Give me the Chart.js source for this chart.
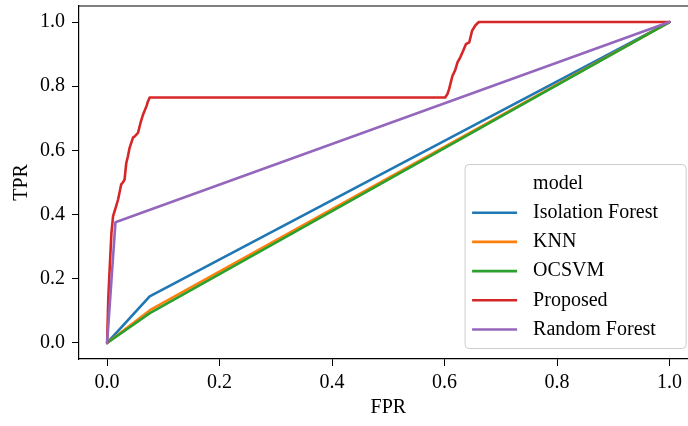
<!DOCTYPE html>
<html>
<head>
<meta charset="utf-8">
<script src="https://cdn.jsdelivr.net/npm/chart.js@4.4.1/dist/chart.umd.min.js"></script>
<style>
  html, body { margin: 0; padding: 0; background: #fff; overflow: hidden; width: 688px; height: 426px; }
  #wrap { width: 700px; height: 426px; }
</style>
</head>
<body>
<div id="wrap"><canvas id="c" width="700" height="426"></canvas></div>
<script>
// ---- data ----
const modelNames = ["Isolation Forest", "KNN", "OCSVM", "Proposed", "Random Forest"];
const modelColors = ["#1f77b4", "#ff7f0e", "#2ca02c", "#d62728", "#9467bd"];

const isoFpr = [0, 0.0757, 1.0];
const isoTpr = [0, 0.145, 1.0];

const knnFpr = [0, 0.076, 1.0];
const knnTpr = [0, 0.102, 1.0];

const ocsvmFpr = [0, 0.076, 1.0];
const ocsvmTpr = [0, 0.093, 1.0];

const propFpr = [0, 0.002, 0.0047, 0.0077, 0.0106, 0.0150, 0.0195, 0.025, 0.028, 0.031, 0.034, 0.037, 0.040, 0.046, 0.050, 0.055, 0.060, 0.064, 0.070, 0.072, 0.0757, 0.601, 0.605, 0.608, 0.614, 0.619, 0.623, 0.628, 0.632, 0.638, 0.644, 0.649, 0.655, 0.661, 1.0];
const propTpr = [0, 0.134, 0.238, 0.343, 0.395, 0.420, 0.447, 0.494, 0.500, 0.509, 0.560, 0.582, 0.608, 0.640, 0.645, 0.655, 0.690, 0.712, 0.738, 0.750, 0.765, 0.765, 0.775, 0.790, 0.832, 0.850, 0.874, 0.890, 0.906, 0.931, 0.937, 0.973, 0.990, 1.0, 1.0];

const rfFpr = [0, 0.0148, 1.0];
const rfTpr = [0, 0.376, 1.0];

const xTicks = [0.0, 0.2, 0.4, 0.6, 0.8, 1.0];
const yTicks = [0.0, 0.2, 0.4, 0.6, 0.8, 1.0];
const xLabel = "FPR";
const yLabel = "TPR";
const legendTitle = "model";

// ---- build ----
const seriesFpr = [isoFpr, knnFpr, ocsvmFpr, propFpr, rfFpr];
const seriesTpr = [isoTpr, knnTpr, ocsvmTpr, propTpr, rfTpr];

const FONT = "'Liberation Serif', 'DejaVu Serif', serif";
const FS = 20;

const datasets = modelNames.map((name, i) => ({
  label: name,
  data: seriesFpr[i].map((x, j) => ({ x: x, y: seriesTpr[i][j] })),
  borderColor: modelColors[i],
  backgroundColor: modelColors[i],
  borderWidth: 2.6,
  pointRadius: 0,
  tension: 0,
  fill: false,
  order: modelNames.length - i,
  borderJoinStyle: 'round',
  borderCapStyle: 'round'
}));

const framePlugin = {
  id: 'frame',
  afterDatasetsDraw(chart) {
    const ctx = chart.ctx;
    const a = chart.chartArea;
    ctx.save();
    ctx.strokeStyle = '#000';
    ctx.lineWidth = 1.2;
    ctx.beginPath();
    ctx.moveTo(a.left, a.top);
    ctx.lineTo(a.right, a.top);
    ctx.lineTo(a.right, a.bottom);
    ctx.stroke();
    ctx.restore();
  }
};

const legendPlugin = {
  id: 'mplLegend',
  afterDraw(chart) {
    const ctx = chart.ctx;
    const a = chart.chartArea;
    const boxRight = a.right - 11.5;
    const boxBottom = a.bottom - 10.5;
    const boxW = 221;
    const boxH = 184;
    const boxLeft = boxRight - boxW;
    const boxTop = boxBottom - boxH;
    ctx.save();
    const r = 4;
    ctx.beginPath();
    ctx.moveTo(boxLeft + r, boxTop);
    ctx.lineTo(boxRight - r, boxTop);
    ctx.arcTo(boxRight, boxTop, boxRight, boxTop + r, r);
    ctx.lineTo(boxRight, boxBottom - r);
    ctx.arcTo(boxRight, boxBottom, boxRight - r, boxBottom, r);
    ctx.lineTo(boxLeft + r, boxBottom);
    ctx.arcTo(boxLeft, boxBottom, boxLeft, boxBottom - r, r);
    ctx.lineTo(boxLeft, boxTop + r);
    ctx.arcTo(boxLeft, boxTop, boxLeft + r, boxTop, r);
    ctx.closePath();
    ctx.fillStyle = 'rgba(255,255,255,0.8)';
    ctx.fill();
    ctx.strokeStyle = '#cccccc';
    ctx.lineWidth = 1;
    ctx.stroke();

    const textX = boxLeft + 68;
    const lineX0 = boxLeft + 7;
    const lineX1 = boxLeft + 52;
    const rowY0 = boxTop + 19;
    const rowStep = 29.2;
    ctx.font = FS + "px " + FONT;
    ctx.textBaseline = 'middle';
    ctx.textAlign = 'left';
    ctx.fillStyle = '#000';
    ctx.fillText(legendTitle, textX, rowY0);
    chart.data.datasets.forEach((ds, i) => {
      const y = rowY0 + rowStep * (i + 1);
      ctx.strokeStyle = ds.borderColor;
      ctx.lineWidth = 2.6;
      ctx.beginPath();
      ctx.moveTo(lineX0, y);
      ctx.lineTo(lineX1, y);
      ctx.stroke();
      ctx.fillStyle = '#000';
      ctx.fillText(ds.label, textX, y);
    });
    ctx.restore();
  }
};

new Chart(document.getElementById('c'), {
  type: 'line',
  data: { datasets: datasets },
  options: {
    responsive: false,
    animation: false,
    events: [],
    layout: { padding: { top: 6, right: 2.4, left: 0, bottom: 0 } },
    plugins: { legend: { display: false }, tooltip: { enabled: false } },
    scales: {
      x: {
        type: 'linear',
        min: -0.05,
        max: 1.05,
        afterBuildTicks: (axis) => { axis.ticks = xTicks.map(v => ({ value: v })); },
        afterFit: (axis) => { axis.height = 67; axis.paddingLeft = 0; axis.paddingRight = 0; },
        grid: { drawOnChartArea: false, drawTicks: true, tickLength: 7, color: '#000', lineWidth: 1 },
        border: { display: true, color: '#000', width: 1.2 },
        ticks: { color: '#000', padding: 5, maxRotation: 0, font: { family: FONT, size: FS }, callback: (v) => Number(v).toFixed(1) },
        title: { display: true, text: xLabel, color: '#000', font: { family: FONT, size: FS, lineHeight: 1.2 }, padding: { top: 0, bottom: 6 } }
      },
      y: {
        type: 'linear',
        min: -0.05,
        max: 1.05,
        afterBuildTicks: (axis) => { axis.ticks = yTicks.map(v => ({ value: v })); },
        afterFit: (axis) => { axis.width = 79; axis.paddingTop = 0; axis.paddingBottom = 0; },
        grid: { drawOnChartArea: false, drawTicks: true, tickLength: 7, color: '#000', lineWidth: 1 },
        border: { display: true, color: '#000', width: 1.2 },
        ticks: { color: '#000', padding: 7, font: { family: FONT, size: FS }, callback: (v) => Number(v).toFixed(1) },
        title: { display: true, text: yLabel, color: '#000', font: { family: FONT, size: FS, lineHeight: 1.2 }, padding: { top: 10, bottom: 0 } }
      }
    }
  },
  plugins: [framePlugin, legendPlugin]
});
</script>
</body>
</html>
